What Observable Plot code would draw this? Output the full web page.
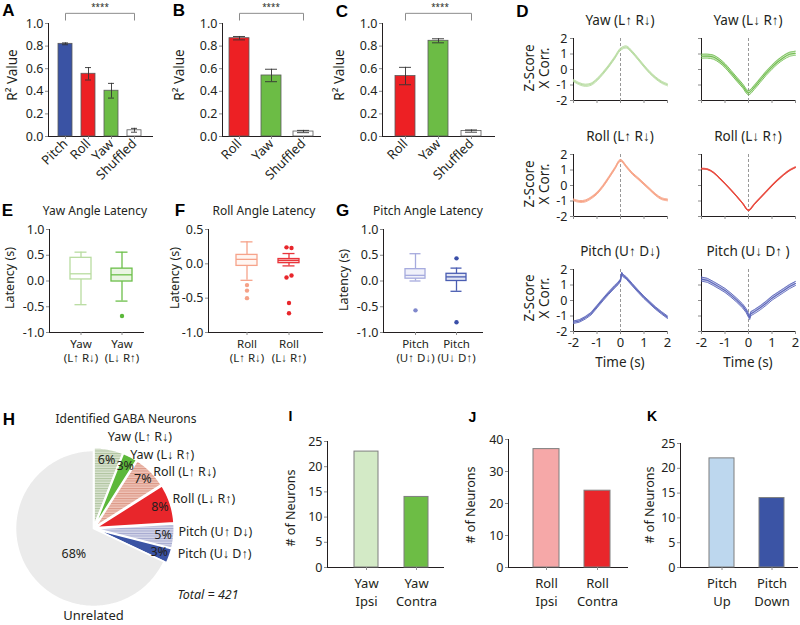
<!DOCTYPE html>
<html><head><meta charset="utf-8">
<script src="https://cdn.jsdelivr.net/npm/d3@7"></script>
<script src="https://cdn.jsdelivr.net/npm/@observablehq/plot@0.6"></script>
<style>
body{margin:0;background:#fff;}
#fig{position:relative;width:800px;height:625px;overflow:hidden;background:#fff;}
#fig svg [aria-label*="axis"] path, #fig svg [aria-label*="axis"] line {stroke:#8c8c8c;}
#fig svg g[aria-label*="axis"] {font-size:12.5px !important; font-family:"Noto Sans", sans-serif !important;}
#fig svg g[aria-label*="axis"] text {font-size:12.5px; fill:#231f20;}
#fig .rot svg g[aria-label^="x-axis"] text {font-size:13px;}
#fig .big svg g[aria-label^="x-axis"] text {font-size:13px;}
</style></head>
<body>
<svg width="0" height="0" style="position:absolute">
<defs>
<pattern id="hatchYaw" width="4" height="2.5" patternUnits="userSpaceOnUse"><rect width="4" height="2.5" fill="#d9e3d0"/><rect width="4" height="1" fill="#afc49e"/></pattern>
<pattern id="hatchRoll" width="4" height="2.5" patternUnits="userSpaceOnUse"><rect width="4" height="2.5" fill="#eec2b6"/><rect width="4" height="1" fill="#dc9886"/></pattern>
<pattern id="hatchPitch" width="4" height="2.5" patternUnits="userSpaceOnUse"><rect width="4" height="2.5" fill="#d3d5e8"/><rect width="4" height="1" fill="#a5a9cf"/></pattern>
</defs>
</svg>
<div id="fig"></div>
<script>
// ---------- DATA ----------
// A
const aCats = ["Pitch", "Roll", "Yaw", "Shuffled"];
const aVals = [0.82, 0.555, 0.405, 0.055];
const aErrs = [0.008, 0.055, 0.065, 0.017];
const aColors = ["#3a53a4", "#ed2024", "#6cbc45", "#ffffff"];
// B
const bCats = ["Roll", "Yaw", "Shuffled"];
const bVals = [0.87, 0.54, 0.044];
const bErrs = [0.015, 0.055, 0.01];
const bColors = ["#ed2024", "#6cbc45", "#ffffff"];
// C
const cCats = ["Roll", "Yaw", "Shuffled"];
const cVals = [0.535, 0.847, 0.048];
const cErrs = [0.077, 0.018, 0.01];
const cColors = ["#ed2024", "#6cbc45", "#ffffff"];

// D  (time in s, z-scored cross-correlation)
const tGrid = [-2, -1.75, -1.5, -1.25, -1, -0.75, -0.5, -0.25, 0, 0.25, 0.5, 0.75, 1, 1.25, 1.5, 1.75, 2];
const yawUpR = [-0.72, -0.92, -1.02, -0.95, -0.66, -0.25, 0.22, 0.75, 1.3, 1.45, 1.12, 0.68, 0.22, -0.2, -0.55, -0.82, -0.99];
const yawDnR = [0.85, 0.86, 0.8, 0.58, 0.25, -0.18, -0.62, -1.05, -1.5, -1.15, -0.7, -0.25, 0.15, 0.5, 0.78, 0.98, 1.05];
const rollUpR = [-0.93, -1.03, -1.0, -0.8, -0.5, -0.05, 0.5, 1.08, 1.62, 1.22, 0.78, 0.45, 0.1, -0.25, -0.6, -0.85, -0.93];
const rollDnR = [1.08, 1.05, 0.85, 0.5, 0.12, -0.28, -0.7, -1.15, -1.6, -1.2, -0.8, -0.4, 0.0, 0.37, 0.7, 0.98, 1.18];
const tPitch = [-2, -1.75, -1.5, -1.25, -1, -0.75, -0.5, -0.25, -0.1, 0, 0.05, 0.1, 0.25, 0.5, 0.75, 1, 1.25, 1.5, 1.75, 2];
const pitchUpD = [-1.4, -1.32, -1.12, -0.85, -0.4, 0.05, 0.48, 0.88, 1.1, 1.3, 1.75, 1.62, 1.45, 1.02, 0.6, 0.2, -0.15, -0.5, -0.8, -1.08];
const pitchDnD = [1.38, 1.3, 1.1, 0.88, 0.65, 0.35, 0.02, -0.35, -0.65, -0.95, -1.1, -0.85, -0.72, -0.47, -0.18, 0.15, 0.4, 0.65, 0.9, 1.1];
const semD = [0.07, 0.13, 0.06, 0.03, 0.08, 0.13];

// E
const eCats = ["Yaw\n(L↑ R↓)", "Yaw\n(L↓ R↑)"];
const eLo = [-0.46, -0.39], eQ1 = [0.03, -0.01], eMed = [0.14, 0.12], eQ3 = [0.45, 0.24], eHi = [0.56, 0.56];
const eOut = [{box: 1, v: -0.68, side: 0}];
// F
const fCats = ["Roll\n(L↑ R↓)", "Roll\n(L↓ R↑)"];
const fLo = [-0.24, -0.03], fQ1 = [-0.03, 0.01], fMed = [0.065, 0.05], fQ3 = [0.13, 0.07], fHi = [0.32, 0.15];
const fOut = [
  {box: 0, v: -0.31, side: 0}, {box: 0, v: -0.39, side: 0}, {box: 0, v: -0.5, side: 0},
  {box: 1, v: 0.24, side: -1}, {box: 1, v: 0.23, side: 1}, {box: 1, v: -0.2, side: -1},
  {box: 1, v: -0.17, side: 1}, {box: 1, v: -0.57, side: 0}, {box: 1, v: -0.72, side: 0}
];
// G
const gCats = ["Pitch\n(U↑ D↓)", "Pitch\n(U↓ D↑)"];
const gLo = [0.0, -0.2], gQ1 = [0.045, 0.0], gMed = [0.11, 0.08], gQ3 = [0.23, 0.14], gHi = [0.53, 0.25];
const gOut = [{box: 0, v: -0.57, side: 0}, {box: 1, v: 0.44, side: 0}, {box: 1, v: -0.8, side: 0}];

// H
const pieLabels = ["Yaw (L↑ R↓)", "Yaw (L↓ R↑)", "Roll (L↑ R↓)", "Roll (L↓ R↑)", "Pitch (U↑ D↓)", "Pitch (U↓ D↑)", "Unrelated"];
const piePct = [6, 3, 7, 8, 5, 3, 68];
const pieFills = ["url(#hatchYaw)", "#5cb83a", "url(#hatchRoll)", "#e8262b", "url(#hatchPitch)", "#3a53a4", "#ebebeb"];

// I, J, K
const iCats = ["Yaw\nIpsi", "Yaw\nContra"], iVals = [23, 14];
const jCats = ["Roll\nIpsi", "Roll\nContra"], jVals = [37, 24];
const kCats = ["Pitch\nUp", "Pitch\nDown"], kVals = [22, 14];

// ---------- HELPERS ----------
const FONT = '"Noto Sans", "Open Sans", sans-serif';
const fig = document.getElementById("fig");
const baseStyle = {fontFamily: FONT, fontSize: "13px", color: "#231f20", background: "transparent", overflow: "visible"};

function place(node, left, top, cls) {
  const d = document.createElement("div");
  d.style.cssText = `position:absolute;left:${left}px;top:${top}px;`;
  if (cls) d.className = cls;
  d.appendChild(node);
  fig.appendChild(d);
}
function txt(s, x, y, o = {}) {
  const {size = 12.5, weight = "normal", anchor = "middle", rotate = 0, color = "#231f20", italic = false, family = FONT, lh = 1.15} = o;
  const d = document.createElement("div");
  const tx = anchor === "middle" ? "-50%" : anchor === "end" ? "-100%" : "0";
  d.textContent = s;
  d.style.cssText = `position:absolute;left:${x}px;top:${y}px;white-space:pre;font-family:${family};font-size:${size}px;font-weight:${weight};font-style:${italic ? "italic" : "normal"};color:${color};line-height:${lh};text-align:center;transform:translate(${tx},-50%) rotate(${rotate}deg);`;
  fig.appendChild(d);
}
const LETTER = '"Liberation Sans", Arial, sans-serif';
// two-line category labels under a band axis
const catLabels = (data, size, dy, lh) => Plot.text(data, {x: "c", text: "c", frameAnchor: "bottom", lineAnchor: "top", dy, lineHeight: lh, fontSize: size, fill: "#231f20"});

// ---------- A, B, C ----------
function r2Panel(cats, vals, errs, colors, width, ml, mr, pi, po) {
  const data = cats.map((c, i) => ({c, v: vals[i], e: errs[i], col: colors[i]}));
  const last = cats[cats.length - 1];
  const br = [{c: cats[0], v: 1.03}, {c: cats[0], v: 1.09}, {c: last, v: 1.09}, {c: last, v: 1.03}];
  return Plot.plot({
    width, height: 180, marginLeft: ml, marginRight: mr, marginTop: 23, marginBottom: 44,
    style: baseStyle,
    color: {type: "identity"},
    x: {domain: cats, paddingInner: pi, paddingOuter: po, label: null, tickRotate: -45, tickSize: 3, tickPadding: 2, line: true},
    y: {domain: [0, 1], ticks: [0, 0.2, 0.4, 0.6, 0.8, 1], tickFormat: d => d.toFixed(1), label: null, line: true, tickSize: 3, tickPadding: 2},
    marks: [
      Plot.barY(data, {x: "c", y: "v", fill: "col", stroke: "#5a5a5a", strokeWidth: 0.8}),
      Plot.ruleX(data, {x: "c", y1: d => d.v - d.e, y2: d => d.v + d.e, stroke: "#333", strokeWidth: 0.9}),
      Plot.tickY(data, {x: "c", y: d => d.v - d.e, stroke: "#333", strokeWidth: 0.9, insetLeft: 4, insetRight: 4}),
      Plot.tickY(data, {x: "c", y: d => d.v + d.e, stroke: "#333", strokeWidth: 0.9, insetLeft: 4, insetRight: 4}),
      Plot.line(br, {x: "c", y: "v", stroke: "#8c8c8c", strokeWidth: 1})
    ]
  });
}
place(r2Panel(aCats, aVals, aErrs, aColors, 160, 48, 8, 0.37, 0.38), 0, 0, "rot");
place(r2Panel(bCats, bVals, bErrs, bColors, 165, 62, 5, 0.38, 0.2), 160, 0, "rot");
place(r2Panel(cCats, cVals, cErrs, cColors, 172, 57, 3, 0.38, 0.38), 325, 0, "rot");

// ---------- D ----------
function curvePanel(t, m, sem, color, left, top, {ml, mr, mb, ylab, xlab, curve}) {
  const data = t.map((ti, i) => ({t: ti, m: m[i], lo: m[i] - sem, hi: m[i] + sem}));
  const svg = Plot.plot({
    width: ml + 94 + mr, height: 8 + 62 + mb, marginLeft: ml, marginRight: mr, marginTop: 8, marginBottom: mb,
    style: baseStyle,
    x: {domain: [-2, 2], ticks: [-2, -1, 0, 1, 2], tickFormat: xlab ? d => String(d) : () => "", line: true, label: null, tickSize: 3, tickPadding: 3},
    y: {domain: [-2, 2], ticks: [-2, -1, 0, 1, 2], tickFormat: ylab ? d => String(d) : () => "", line: true, label: null, tickSize: 3, tickPadding: 3},
    marks: [
      Plot.ruleX([0], {stroke: "#8c8c8c", strokeDasharray: "3,2", strokeWidth: 0.9}),
      Plot.areaY(data, {x: "t", y1: "lo", y2: "hi", fill: color, fillOpacity: 0.35, curve}),
      Plot.line(data, {x: "t", y: "lo", stroke: color, strokeWidth: 0.9, curve}),
      Plot.line(data, {x: "t", y: "hi", stroke: color, strokeWidth: 0.9, curve}),
      Plot.line(data, {x: "t", y: "m", stroke: color, strokeWidth: 1.1, curve})
    ]
  });
  place(svg, left, top, "big");
}
const Lc = {ml: 33, mr: 3}, Rc = {ml: 11, mr: 3};
curvePanel(tGrid, yawUpR, semD[0], "#b9dca3", 540, 30, {...Lc, mb: 8, ylab: true, xlab: false, curve: "catmull-rom"});
curvePanel(tGrid, yawDnR, semD[1], "#72bd50", 690, 30, {...Rc, mb: 8, ylab: false, xlab: false, curve: "catmull-rom"});
curvePanel(tGrid, rollUpR, semD[2], "#f7a487", 540, 146, {...Lc, mb: 8, ylab: true, xlab: false, curve: "catmull-rom"});
curvePanel(tGrid, rollDnR, semD[3], "#e84a3e", 690, 146, {...Rc, mb: 8, ylab: false, xlab: false, curve: "catmull-rom"});
curvePanel(tPitch, pitchUpD, semD[4], "#5c66bb", 540, 261, {...Lc, mb: 22, ylab: true, xlab: true, curve: "linear"});
curvePanel(tPitch, pitchDnD, semD[5], "#5c66bb", 690, 261, {...Rc, mb: 22, ylab: false, xlab: true, curve: "linear"});

// ---------- E, F, G ----------
function boxPanel({cats, lo, q1, med, q3, hi, outs, strokes, fills, outColors, domain, ticks, width, ml, mr, pi, po, align}) {
  const data = cats.map((c, i) => ({c, lo: lo[i], q1: q1[i], med: med[i], q3: q3[i], hi: hi[i], sc: strokes[i], fc: fills[i]}));
  const od = outs.map(o => ({c: cats[o.box], v: o.v, side: o.side, oc: outColors[o.box]}));
  const sw = 1.3;
  return Plot.plot({
    width, height: 147, marginLeft: ml, marginRight: mr, marginTop: 10, marginBottom: 34,
    style: baseStyle,
    color: {type: "identity"},
    x: {domain: cats, paddingInner: pi, paddingOuter: po, align, label: null, line: true, tickSize: 3, tickFormat: () => ""},
    y: {domain, ticks, tickFormat: d => d.toFixed(1), label: null, line: true, tickSize: 3, tickPadding: 2},
    marks: [
      Plot.ruleX(data, {x: "c", y1: "lo", y2: "q1", stroke: "sc", strokeWidth: sw}),
      Plot.ruleX(data, {x: "c", y1: "q3", y2: "hi", stroke: "sc", strokeWidth: sw}),
      Plot.tickY(data, {x: "c", y: "lo", stroke: "sc", strokeWidth: sw, insetLeft: 4.5, insetRight: 4.5}),
      Plot.tickY(data, {x: "c", y: "hi", stroke: "sc", strokeWidth: sw, insetLeft: 4.5, insetRight: 4.5}),
      Plot.barY(data, {x: "c", y1: "q1", y2: "q3", fill: "fc", stroke: "sc", strokeWidth: sw}),
      Plot.tickY(data, {x: "c", y: "med", stroke: "sc", strokeWidth: sw}),
      Plot.dot(od.filter(d => d.side === 0), {x: "c", y: "v", fill: "oc", r: 2.2}),
      Plot.dot(od.filter(d => d.side < 0), {x: "c", y: "v", fill: "oc", r: 2.2, dx: -2.5}),
      Plot.dot(od.filter(d => d.side > 0), {x: "c", y: "v", fill: "oc", r: 2.2, dx: 2.5}),
      catLabels(data, 11.5, 6, 1.22)
    ]
  });
}
place(boxPanel({cats: eCats, lo: eLo, q1: eQ1, med: eMed, q3: eQ3, hi: eHi, outs: eOut,
  strokes: ["#b8dca0", "#6cbf4a"], fills: ["#ffffff", "#eaf5e3"], outColors: ["#9ccc80", "#5bb83a"],
  domain: [-1, 1], ticks: [-1, -0.5, 0, 0.5, 1], width: 150, ml: 49, mr: 7, pi: 0.49, po: 0.39, align: 0.66}), 0, 219);
place(boxPanel({cats: fCats, lo: fLo, q1: fQ1, med: fMed, q3: fQ3, hi: fHi, outs: fOut,
  strokes: ["#f6a38a", "#e9343a"], fills: ["#fff6f2", "#f9d0cf"], outColors: ["#f5a187", "#e8262b"],
  domain: [-1, 0.5], ticks: [-1, -0.5, 0, 0.5], width: 160, ml: 43, mr: 3, pi: 0.5, po: 0.6, align: 0.55}), 165, 219);
place(boxPanel({cats: gCats, lo: gLo, q1: gQ1, med: gMed, q3: gQ3, hi: gHi, outs: gOut,
  strokes: ["#a6abde", "#4a5db2"], fills: ["#f0f1fa", "#e0e4f4"], outColors: ["#8088cc", "#3a4fa8"],
  domain: [-1, 1], ticks: [-1, -0.5, 0, 0.5, 1], width: 145, ml: 43, mr: 3, pi: 0.52, po: 0.44, align: 0.58}), 340, 219);

// ---------- H (pie) ----------
(function () {
  const total = d3.sum(piePct);
  let a0 = 0;
  const slices = piePct.map((p, i) => {
    const a1 = a0 + p / total * 2 * Math.PI;
    const mid = (a0 + a1) / 2;
    const ex = i < piePct.length - 1 ? 0.035 : 0;
    const ox = ex * Math.sin(mid), oy = ex * Math.cos(mid);
    const pts = [{x: ox, y: oy}];
    const n = Math.max(3, Math.ceil((a1 - a0) / 0.02));
    for (let k = 0; k <= n; k++) {
      const a = a0 + (a1 - a0) * k / n;
      pts.push({x: ox + Math.sin(a), y: oy + Math.cos(a)});
    }
    pts.push({x: ox, y: oy});
    a0 = a1;
    return {label: pieLabels[i], pct: p, mid, ox, oy, pts, fill: pieFills[i], main: i === piePct.length - 1};
  });
  const R = 78;
  const nudges = [[-2, -6], [-3, 4], [-2, 5], [-4, -3], [-2, -5], [2, -4]];
  const outer = slices.filter(s => !s.main);
  const svg = Plot.plot({
    width: 260, height: 195, margin: 0,
    style: baseStyle,
    x: {domain: [-93 / R, 167 / R], axis: null},
    y: {domain: [-97 / R, 98 / R], axis: null},
    marks: [
      ...slices.map(s => Plot.line(s.pts, {x: "x", y: "y", fill: s.fill, stroke: "white", strokeWidth: 1.6, strokeLinejoin: "round"})),
      Plot.text(outer, {x: s => s.ox + 0.86 * Math.sin(s.mid), y: s => s.oy + 0.86 * Math.cos(s.mid), text: s => s.pct + "%", fill: "#231f20", fontSize: 12.5}),
      Plot.text(slices.filter(s => s.main), {x: s => 0.42 * Math.sin(s.mid), y: s => 0.42 * Math.cos(s.mid), text: s => s.pct + "%", fill: "#231f20", fontSize: 12.5, dx: 8, dy: 8}),
      ...outer.map((s, i) => Plot.text([s], {x: d => 1.12 * Math.sin(d.mid), y: d => 1.12 * Math.cos(d.mid), text: "label", textAnchor: "start", fill: "#231f20", fontSize: 12.5, dx: nudges[i][0], dy: nudges[i][1]})),
      Plot.text(slices.filter(s => s.main), {x: () => 0, frameAnchor: "bottom", dy: -6, text: "label", fontSize: 13, fill: "#231f20"})
    ]
  });
  place(svg, 0, 430);
})();

// ---------- I, J, K ----------
function countPanel(cats, vals, colors, yMax, yTicks, width, ml, mr, mt, ph, pi, po, align) {
  const data = cats.map((c, i) => ({c, v: vals[i], col: colors[i]}));
  return Plot.plot({
    width, height: mt + ph + 45, marginTop: mt, marginBottom: 45, marginLeft: ml, marginRight: mr,
    style: baseStyle,
    color: {type: "identity"},
    x: {domain: cats, paddingInner: pi, paddingOuter: po, align, label: null, line: true, tickSize: 3, tickFormat: () => ""},
    y: {domain: [0, yMax], ticks: yTicks, label: null, line: true, tickSize: 3, tickPadding: 2},
    marks: [
      Plot.barY(data, {x: "c", y: "v", fill: "col", stroke: "#7f7f7f", strokeWidth: 1}),
      catLabels(data, 13, 8, 1.38)
    ]
  });
}
place(countPanel(iCats, iVals, ["#d3eac6", "#6dbd45"], 25, [0, 5, 10, 15, 20, 25], 166, 47, 3, 10, 126, 0.52, 0.4, 0.64), 280, 431);
place(countPanel(jCats, jVals, ["#f6a8a8", "#e9262b"], 40, [0, 10, 20, 30, 40], 168, 46, 3, 10, 128, 0.485, 0.395, 0.61), 462, 429);
place(countPanel(kCats, kVals, ["#bdd7ee", "#3b54a5"], 25, [0, 5, 10, 15, 20, 25], 164, 44, 3, 11, 124, 0.5, 0.42, 0.69), 636, 432);

// ---------- TEXT ----------
[["A", 8.5, 9.5], ["B", 179, 10], ["C", 342, 10.5], ["D", 522.5, 10.5], ["E", 7.5, 210], ["F", 180, 210], ["G", 342.5, 210], ["H", 9, 418.5]]
  .forEach(([s, x, y]) => txt(s, x, y, {size: 17, weight: "bold", family: LETTER, color: "#000", lh: 1}));
[["I", 290.5, 416], ["J", 472.5, 416.5], ["K", 652, 415.5]]
  .forEach(([s, x, y]) => txt(s, x, y, {size: 14, weight: "bold", family: LETTER, color: "#000", lh: 1}));

[13, 180, 340].forEach(x => txt("R² Value", x, 75, {size: 13.5, rotate: -90}));
[100, 271, 440].forEach(x => txt("****", x, 7, {size: 8}));

txt("Yaw (L↑ R↓)", 620, 21, {size: 13.5}); txt("Yaw (L↓ R↑)", 748, 21, {size: 13.5});
txt("Roll (L↑ R↓)", 620, 137, {size: 13.5}); txt("Roll (L↓ R↑)", 748, 137, {size: 13.5});
txt("Pitch (U↑ D↓)", 620, 252, {size: 13.5}); txt("Pitch (U↓ D↑ )", 748, 252, {size: 13.5});
[68, 184, 298].forEach(y => txt("Z-Score\nX Corr.", 537, y, {size: 13.5, rotate: -90, lh: 1.1}));
txt("Time (s)", 620, 363, {size: 13.5}); txt("Time (s)", 748, 363, {size: 13.5});

txt("Yaw Angle Latency", 95, 211, {size: 12});
txt("Roll Angle Latency", 264, 211, {size: 12});
txt("Pitch Angle Latency", 428, 211, {size: 12});
[[10, 278], [175, 278], [344, 280]].forEach(([x, y]) => txt("Latency (s)", x, y, {size: 12.5, rotate: -90}));

txt("Identified GABA Neurons", 126, 419, {size: 12});
txt("Total = 421", 208, 595, {size: 12.5, italic: true});
[[291, 508], [471, 505], [650, 505]].forEach(([x, y]) => txt("# of Neurons", x, y, {size: 12.5, rotate: -90}));
</script>
</body></html>
